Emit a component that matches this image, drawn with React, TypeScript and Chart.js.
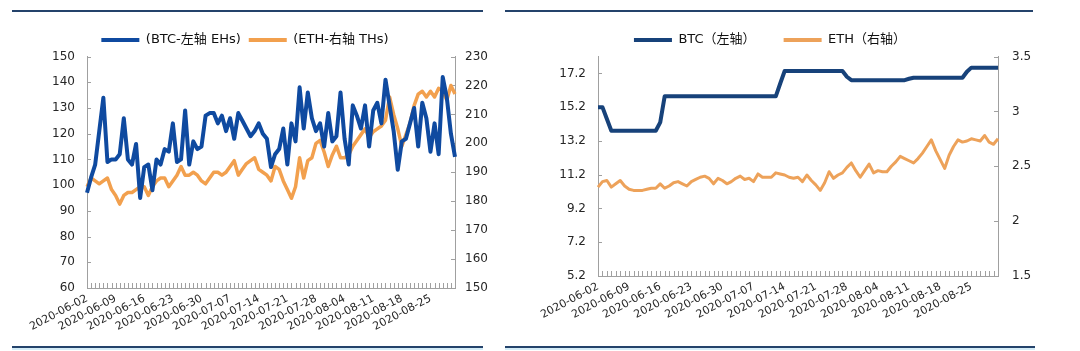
import React, { useEffect, useRef } from 'react';
import { Chart, registerables } from 'chart.js';

Chart.register(...registerables);

// ---------- data ----------
const dates = [
  '2020-06-02','2020-06-03','2020-06-04','2020-06-05','2020-06-06','2020-06-07','2020-06-08','2020-06-09','2020-06-10','2020-06-11',
  '2020-06-12','2020-06-13','2020-06-14','2020-06-15','2020-06-16','2020-06-17','2020-06-18','2020-06-19','2020-06-20','2020-06-21',
  '2020-06-22','2020-06-23','2020-06-24','2020-06-25','2020-06-26','2020-06-27','2020-06-28','2020-06-29','2020-06-30','2020-07-01',
  '2020-07-02','2020-07-03','2020-07-04','2020-07-05','2020-07-06','2020-07-07','2020-07-08','2020-07-09','2020-07-10','2020-07-11',
  '2020-07-12','2020-07-13','2020-07-14','2020-07-15','2020-07-16','2020-07-17','2020-07-18','2020-07-19','2020-07-20','2020-07-21',
  '2020-07-22','2020-07-23','2020-07-24','2020-07-25','2020-07-26','2020-07-27','2020-07-28','2020-07-29','2020-07-30','2020-07-31',
  '2020-08-01','2020-08-02','2020-08-03','2020-08-04','2020-08-05','2020-08-06','2020-08-07','2020-08-08','2020-08-09','2020-08-10',
  '2020-08-11','2020-08-12','2020-08-13','2020-08-14','2020-08-15','2020-08-16','2020-08-17','2020-08-18','2020-08-19','2020-08-20',
  '2020-08-21','2020-08-22','2020-08-23','2020-08-24','2020-08-25','2020-08-26','2020-08-27','2020-08-28','2020-08-29','2020-08-30',
  '2020-08-31',
];

const xTickLabels = [
  '2020-06-02','2020-06-09','2020-06-16','2020-06-23','2020-06-30','2020-07-07','2020-07-14',
  '2020-07-21','2020-07-28','2020-08-04','2020-08-11','2020-08-18','2020-08-25',
];

// Left chart: hashrate
const btcHashrate = [
  97,103,108,121,134,109,110,110,112,126,
  110,108,116,95,107,108,98,110,108,114,
  113,124,109,110,129,108,117,114,115,127,
  128,128,124,127,121,126,118,128,125,122,
  119,121,124,120,118,107,112,114,122,108,
  124,117,138,122,136,126,121,124,115,128,
  117,119,136,118,108,131,127,122,131,115,
  129,132,124,141,131,121,106,117,118,124,
  130,115,132,126,113,124,112,142,134,120,111,
];
const ethHashrate = [
  185,188,187,186,187,188,184,182,179,182,
  183,183,184,185,185,182,185,187,188,188,
  185,187,189,192,189,189,190,189,187,186,
  188,190,190,189,190,192,194,189,191,193,
  194,195,191,190,189,187,192,191,187,184,
  181,185,195,188,194,195,200,201,197,192,
  196,199,195,195,196,199,201,203,205,202,
  204,205,206,208,216,210,205,199,203,207,
  213,217,218,216,218,216,219,218,215,220,217,
];

// Right chart: difficulty
const btcDifficulty = [
  15.2,15.2,14.5,13.8,13.8,13.8,13.8,13.8,13.8,13.8,
  13.8,13.8,13.8,13.8,14.3,15.84,15.84,15.84,15.84,15.84,
  15.84,15.84,15.84,15.84,15.84,15.84,15.84,15.84,15.84,15.84,
  15.84,15.84,15.84,15.84,15.84,15.84,15.84,15.84,15.84,15.84,
  15.84,16.6,17.34,17.34,17.34,17.34,17.34,17.34,17.34,17.34,
  17.34,17.34,17.34,17.34,17.34,17.34,17.0,16.8,16.8,16.8,
  16.8,16.8,16.8,16.8,16.8,16.8,16.8,16.8,16.8,16.8,
  16.88,16.94,16.94,16.94,16.94,16.94,16.94,16.94,16.94,16.94,
  16.94,16.94,16.94,17.3,17.54,17.54,17.54,17.54,17.54,17.54,17.54,
];
const ethDifficulty = [
  2.31,2.36,2.37,2.31,2.34,2.37,2.32,2.29,2.28,2.28,
  2.28,2.29,2.30,2.30,2.34,2.30,2.32,2.35,2.36,2.34,
  2.32,2.36,2.38,2.40,2.41,2.39,2.34,2.39,2.37,2.34,
  2.36,2.39,2.41,2.38,2.39,2.36,2.43,2.40,2.40,2.40,
  2.44,2.43,2.42,2.40,2.39,2.40,2.36,2.42,2.37,2.33,
  2.28,2.35,2.45,2.39,2.42,2.44,2.49,2.53,2.46,2.40,
  2.46,2.52,2.44,2.46,2.45,2.45,2.50,2.54,2.59,2.57,
  2.55,2.53,2.57,2.62,2.68,2.74,2.64,2.56,2.48,2.60,
  2.68,2.74,2.72,2.73,2.75,2.74,2.73,2.78,2.72,2.70,2.75,
];
const rightLeftTicks = [5.2, 7.2, 9.2, 11.2, 13.2, 15.2, 17.2];

// ---------- styling ----------
const FONT = "'DejaVu Sans', 'Noto Sans CJK SC', sans-serif";
const AXIS_COLOR = '#a0a0a0';
const TEXT_COLOR = '#262626';

const innerTicks = {
  id: 'innerTicks',
  beforeDatasetsDraw(chart: any) {
    const { ctx, chartArea } = chart;
    ctx.save();
    ctx.strokeStyle = AXIS_COLOR;
    ctx.lineWidth = 1;
    ctx.beginPath();
    Object.values(chart.scales).forEach((s: any) => {
      if (s.axis === 'x') {
        s.ticks.forEach((_: any, i: number) => {
          const px = Math.round(s.getPixelForTick(i)) + 0.5;
          ctx.moveTo(px, chartArea.bottom);
          ctx.lineTo(px, chartArea.bottom - 5);
        });
      } else {
        const left = s.position === 'left';
        const x0 = left ? chartArea.left : chartArea.right;
        s.ticks.forEach((_: any, i: number) => {
          const py = Math.round(s.getPixelForTick(i)) + 0.5;
          ctx.moveTo(x0, py);
          ctx.lineTo(left ? x0 + 4 : x0 - 4, py);
        });
      }
    });
    ctx.stroke();
    ctx.restore();
  },
};

const legendLabels = (padding: number) => ({
  boxWidth: 38,
  boxHeight: 4,
  padding,
  color: '#111',
  font: { family: FONT, size: 13 },
  generateLabels: (chart: any) =>
    (Chart.defaults.plugins.legend.labels as any)
      .generateLabels(chart)
      .map((l: any) => ({ ...l, lineWidth: 0 })),
});

const xScale = (height: number) => ({
  type: 'category',
  grid: { display: false, drawTicks: false },
  border: { display: true, color: AXIS_COLOR },
  ticks: {
    autoSkip: false,
    maxRotation: 28,
    minRotation: 28,
    padding: 4,
    color: TEXT_COLOR,
    font: { family: FONT, size: 11 },
    callback: (_v: any, i: number) => (xTickLabels.includes(dates[i]) ? dates[i] : ''),
  },
  afterFit: (s: any) => {
    s.height = height;
  },
});

const yScale = (position: string, width: number, extra: any) => ({
  position,
  grid: { display: false, drawTicks: false },
  border: { display: true, color: AXIS_COLOR },
  ...extra,
  ticks: {
    padding: 12,
    color: TEXT_COLOR,
    font: { family: FONT, size: 12 },
    ...(extra.ticks || {}),
  },
  afterFit: (s: any) => {
    s.width = width;
  },
});

function ChartCanvas({ config, left, top, width, height }: any) {
  const ref = useRef<HTMLCanvasElement | null>(null);
  useEffect(() => {
    const chart = new Chart(ref.current as HTMLCanvasElement, config);
    return () => chart.destroy();
  }, []);
  return (
    <canvas
      ref={ref}
      width={width}
      height={height}
      style={{ position: 'absolute', left, top, width, height }}
    />
  );
}

const leftConfig: any = {
  type: 'line',
  data: {
    labels: dates,
    datasets: [
      {
        label: '(BTC-左轴 EHs)',
        data: btcHashrate,
        borderColor: '#0f4aa0',
        backgroundColor: '#0f4aa0',
        borderWidth: 4,
        pointRadius: 0,
        tension: 0,
        borderJoinStyle: 'round',
        yAxisID: 'y',
      },
      {
        label: '(ETH-右轴 THs)',
        data: ethHashrate,
        borderColor: '#f2a04e',
        backgroundColor: '#f2a04e',
        borderWidth: 3.5,
        pointRadius: 0,
        tension: 0,
        borderJoinStyle: 'round',
        yAxisID: 'y1',
      },
    ],
  },
  options: {
    responsive: false,
    animation: false,
    devicePixelRatio: 1,
    layout: { padding: { top: 11.5, left: 0, right: 0, bottom: 0 } },
    plugins: {
      legend: { position: 'top', labels: legendLabels(8) },
      tooltip: { enabled: false },
    },
    scales: {
      x: xScale(59),
      y: yScale('left', 87, { min: 60, max: 150, ticks: { stepSize: 10 } }),
      y1: yScale('right', 35, { min: 150, max: 230, ticks: { stepSize: 10, padding: 10 } }),
    },
  },
  plugins: [innerTicks],
};

const rightConfig: any = {
  type: 'line',
  data: {
    labels: dates,
    datasets: [
      {
        label: 'BTC（左轴）',
        data: btcDifficulty,
        borderColor: '#17427a',
        backgroundColor: '#17427a',
        borderWidth: 4,
        pointRadius: 0,
        tension: 0,
        borderJoinStyle: 'round',
        yAxisID: 'y',
      },
      {
        label: 'ETH（右轴）',
        data: ethDifficulty,
        borderColor: '#eda25a',
        backgroundColor: '#eda25a',
        borderWidth: 3,
        pointRadius: 0,
        tension: 0,
        borderJoinStyle: 'round',
        yAxisID: 'y1',
      },
    ],
  },
  options: {
    responsive: false,
    animation: false,
    devicePixelRatio: 1,
    layout: { padding: { top: 5.5, left: 0, right: 0, bottom: 0 } },
    plugins: {
      legend: { position: 'top', labels: legendLabels(28) },
      tooltip: { enabled: false },
    },
    scales: {
      x: xScale(71),
      y: yScale('left', 110, {
        min: 5.2,
        max: 18.2,
        afterBuildTicks: (s: any) => {
          s.ticks = rightLeftTicks.map((v) => ({ value: v }));
        },
        ticks: { callback: (v: number) => v.toFixed(1) },
      }),
      y1: yScale('right', 54, {
        min: 1.5,
        max: 3.5,
        ticks: { stepSize: 0.5, padding: 14, callback: (v: number) => String(v) },
      }),
    },
  },
  plugins: [innerTicks],
};

const rule = (left: number, top: number, width: number): React.CSSProperties => ({
  position: 'absolute',
  left,
  top,
  width,
  height: 2,
  background: '#24436b',
});

export default function App() {
  return (
    <div
      style={{
        position: 'absolute',
        left: 0,
        top: 0,
        width: 1080,
        height: 351,
        background: '#ffffff',
        overflow: 'hidden',
      }}
    >
      <ChartCanvas config={leftConfig} left={0} top={14} width={490} height={333} />
      <ChartCanvas config={rightConfig} left={488} top={0} width={564} height={347} />
      <div style={rule(12, 10, 471)} />
      <div style={rule(505, 10, 528)} />
      <div style={rule(12, 346, 471)} />
      <div style={rule(505, 346, 530)} />
      <div style={{ position: 'absolute', left: 12, top: 348, width: 471, height: 2, background: '#d4ecf7' }} />
      <div style={{ position: 'absolute', left: 505, top: 348, width: 530, height: 2, background: '#d4ecf7' }} />
    </div>
  );
}
